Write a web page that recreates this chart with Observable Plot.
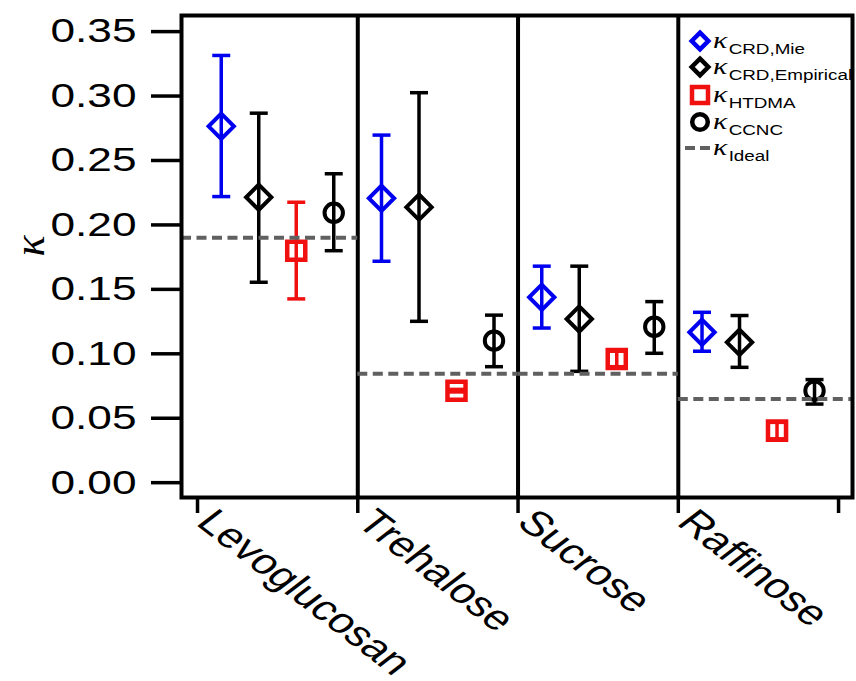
<!DOCTYPE html>
<html><head><meta charset="utf-8">
<script src="https://cdn.jsdelivr.net/npm/d3@7"></script>
<script src="https://cdn.jsdelivr.net/npm/@observablehq/plot@0.6"></script>
<style>body{margin:0;background:#fff} #chart{width:856px;height:681px;position:relative}</style>
</head><body><div id="chart"></div>
<script>
// ---- data ----
const categories = ["Levoglucosan", "Trehalose", "Sucrose", "Raffinose"];
const seriesNames = ["CRD,Mie", "CRD,Empirical", "HTDMA", "CCNC", "Ideal"];

const mieVal = [0.2765, 0.2207, 0.1439, 0.1167];
const mieLo  = [0.2220, 0.1718, 0.1200, 0.1020];
const mieHi  = [0.3315, 0.2697, 0.1680, 0.1322];

const empVal = [0.2215, 0.2138, 0.1270, 0.1089];
const empLo  = [0.1555, 0.1252, 0.0864, 0.0895];
const empHi  = [0.2867, 0.3026, 0.1680, 0.1297];

const htdmaVal = [0.1800, 0.0714, 0.0960, 0.0404];
const htdmaLo  = [0.1426, 0.0704, 0.0900, 0.0340];
const htdmaHi  = [0.2176, 0.0724, 0.1020, 0.0468];

const ccncVal = [0.2094, 0.1102, 0.1210, 0.0714];
const ccncLo  = [0.1800, 0.0900, 0.1004, 0.0610];
const ccncHi  = [0.2397, 0.1300, 0.1405, 0.0800];

const idealVal = [0.190, 0.0845, 0.0845, 0.065];

const yTicks = [0.00, 0.05, 0.10, 0.15, 0.20, 0.25, 0.30, 0.35];

// ---- layout / style ----
const BLUE = "#0000f0", RED = "#f01010", BLACK = "#000", GRAY = "#606060";
const slot = [0.148, 0.382, 0.616, 0.85];   // position of each series inside a category
const xDomain = [-0.1, 4.087];
const yDomain = [-0.0115, 0.3625];
const STRETCH = 1.3;

const series = [
  {v: mieVal,   lo: mieLo,   hi: mieHi,   color: BLUE,  symbol: "diamond2", r: 11.4, sw: 4},
  {v: empVal,   lo: empLo,   hi: empHi,   color: BLACK, symbol: "diamond2", r: 11.4, sw: 4},
  {v: htdmaVal, lo: htdmaLo, hi: htdmaHi, color: RED,   symbol: "square2",  r: 11.5, sw: 4.5},
  {v: ccncVal,  lo: ccncLo,  hi: ccncHi,  color: BLACK, symbol: "circle",   r: 9.2,  sw: 4}
];

const capSymbol = {draw(ctx) { ctx.moveTo(-9, 0); ctx.lineTo(9, 0); }};

const errMarks = [], dotMarks = [];
series.forEach((s, k) => {
  const rows = categories.map((c, i) => ({x: i + slot[k], y: s.v[i], lo: s.lo[i], hi: s.hi[i]}));
  errMarks.push(
    Plot.ruleX(rows, {x: "x", y1: "lo", y2: "hi", stroke: s.color, strokeWidth: 3.5}),
    Plot.dot(rows, {x: "x", y: "lo", symbol: capSymbol, r: 5, fill: "none", stroke: s.color, strokeWidth: 3.5}),
    Plot.dot(rows, {x: "x", y: "hi", symbol: capSymbol, r: 5, fill: "none", stroke: s.color, strokeWidth: 3.5})
  );
  dotMarks.push(
    Plot.dot(rows, {x: "x", y: "y", symbol: s.symbol, r: s.r, fill: "none", stroke: s.color, strokeWidth: s.sw})
  );
});

const idealRows = categories.map((c, i) => ({
  x1: i === 0 ? xDomain[0] : i,
  x2: i === categories.length - 1 ? xDomain[1] : i + 1,
  y: idealVal[i]
}));

const chart = Plot.plot({
  width: 856, height: 681,
  marginLeft: 181, marginRight: 4, marginTop: 15, marginBottom: 184,
  style: {fontFamily: "'Liberation Sans', Arial, sans-serif", background: "white", color: "black", overflow: "visible"},
  x: {type: "linear", domain: xDomain, axis: null},
  y: {domain: yDomain, axis: null},
  marks: [
    Plot.ruleX(d3.range(1, categories.length), {stroke: BLACK, strokeWidth: 4}),
    ...errMarks,
    ...dotMarks,
    Plot.ruleY(idealRows, {x1: "x1", x2: "x2", y: "y", stroke: GRAY, strokeWidth: 4, strokeDasharray: "10,5.5"}),
    Plot.frame({stroke: BLACK, strokeWidth: 4}),
    Plot.axisY({ticks: yTicks, tickFormat: d3.format(".2f"), tickSize: 30, tickPadding: 15, strokeWidth: 3.5, fontSize: 34, label: null}),
    Plot.axisX({ticks: d3.range(categories.length + 1), tickSize: 16, strokeWidth: 3.5, tickFormat: () => "", label: null}),
    Plot.text(categories, {x: (d, i) => i, frameAnchor: "bottom", dx: 20, dy: 9, rotate: 45,
      textAnchor: "start", lineAnchor: "top", fontSize: 35}),
    Plot.text(["κ"], {frameAnchor: "left", dx: -152, dy: 0, rotate: -90, fontSize: 44,
      fontFamily: "'Liberation Serif', serif", fontStyle: "italic", className: "klabel"})
  ]
});

// horizontal stretch of tick/category text, as in the reference
d3.select(chart).selectAll("text").each(function () {
  if (this.textContent === "κ") return;
  const t = this.getAttribute("transform");
  if (t) {
    this.setAttribute("transform", t.includes("rotate") ? t.replace("rotate", `scale(${STRETCH},1) rotate`) : `${t} scale(${STRETCH},1)`);
  } else {
    const x = +this.getAttribute("x") || 0, y = +this.getAttribute("y") || 0;
    this.removeAttribute("x"); this.removeAttribute("y");
    this.setAttribute("transform", `translate(${x},${y}) scale(${STRETCH},1)`);
  }
});

// legend
const lg = d3.select(chart).append("g").attr("class", "legend").attr("text-anchor", "start");
const legendY = [41, 67, 95, 122, 148];
const mx = 700;
const legendItems = [
  {color: BLUE, kind: "diamond"}, {color: BLACK, kind: "diamond"},
  {color: RED, kind: "square"}, {color: BLACK, kind: "circle"}, {color: GRAY, kind: "dash"}
];
legendItems.forEach((it, j) => {
  const y = legendY[j];
  if (it.kind === "diamond") {
    lg.append("path").attr("d", d3.symbol(d3.symbolDiamond2, 176)()).attr("transform", `translate(${mx},${y})`)
      .attr("fill", "none").attr("stroke", it.color).attr("stroke-width", 4.5);
  } else if (it.kind === "square") {
    lg.append("path").attr("d", d3.symbol(d3.symbolSquare2, 326)()).attr("transform", `translate(${mx},${y})`)
      .attr("fill", "none").attr("stroke", it.color).attr("stroke-width", 4.5);
  } else if (it.kind === "circle") {
    lg.append("circle").attr("cx", mx).attr("cy", y).attr("r", 7.8)
      .attr("fill", "none").attr("stroke", it.color).attr("stroke-width", 4.5);
  } else {
    lg.append("line").attr("x1", 685).attr("x2", 713).attr("y1", y).attr("y2", y)
      .attr("stroke", it.color).attr("stroke-width", 4).attr("stroke-dasharray", "10,5");
  }
  const t = lg.append("text").attr("text-anchor", "start")
    .attr("transform", `translate(713,${y + 7}) scale(${STRETCH},1)`).attr("fill", "black");
  t.append("tspan").text("κ").attr("font-family", "'Liberation Serif', serif").attr("font-style", "italic").attr("font-size", 23);
  t.append("tspan").text(seriesNames[j]).attr("font-family", "'Liberation Sans', Arial, sans-serif").attr("font-size", 14.5).attr("dy", 6).attr("dx", 1);
});

document.getElementById("chart").appendChild(chart);
</script>
</body></html>
